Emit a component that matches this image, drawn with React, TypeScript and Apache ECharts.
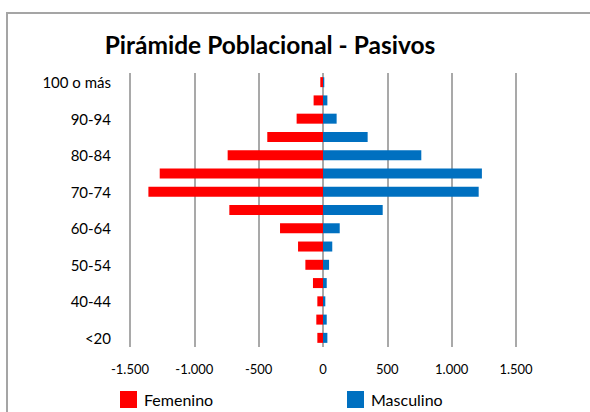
import React, { useEffect, useRef } from "react";
import * as echarts from "echarts";

const categories = ["<20", "20-39", "40-44", "45-49", "50-54", "55-59", "60-64", "65-69", "70-74", "75-79", "80-84", "85-89", "90-94", "95-99", "100 o más"];
const femenino = [44, 52, 44, 78, 137, 194, 334, 728, 1357, 1269, 741, 433, 205, 73, 21];
const masculino = [34, 29, 18, 29, 47, 72, 130, 464, 1210, 1235, 764, 347, 106, 34, 10];
const xTicks = [-1500, 1500, 500];

const fmt = (v: number) => {
  const s = Math.abs(v).toString().replace(/\B(?=(\d{3})+(?!\d))/g, ".");
  return (v < 0 ? "-" : "") + s;
};

export default function App() {
  const ref = useRef<HTMLDivElement>(null);
  useEffect(() => {
    const chart = echarts.init(ref.current!, null, { renderer: "svg" });
    const font = "Lato";
    chart.setOption({
      animation: false,
      backgroundColor: "#ffffff",
      title: {
        text: "Pirámide Poblacional - Pasivos",
        left: 265,
        top: 27,
        textAlign: "center",
        textStyle: { fontFamily: font, fontWeight: "bold", fontSize: 24.5, color: "#000" },
      },
      graphic: [
        {
          type: "rect",
          shape: { x: 7, y: 13, width: 700, height: 500 },
          style: { fill: "none", stroke: "#A5A5A5", lineWidth: 2 },
          silent: true,
        },
      ],
      legend: [
        {
          data: ["Femenino"],
          left: 120,
          top: 391,
          padding: 0,
          itemWidth: 17,
          itemHeight: 17,
          icon: "rect",
          textStyle: { fontFamily: font, fontSize: 16, color: "#000", padding: [0, 0, 0, 2] },
        },
        {
          data: ["Masculino"],
          left: 347,
          top: 391,
          padding: 0,
          itemWidth: 17,
          itemHeight: 17,
          icon: "rect",
          textStyle: { fontFamily: font, fontSize: 16, color: "#000", padding: [0, 0, 0, 2] },
        },
      ],
      grid: { left: 130, right: 74, top: 73, bottom: 65, containLabel: false },
      xAxis: {
        type: "value",
        min: xTicks[0],
        max: xTicks[1],
        interval: xTicks[2],
        axisLine: { show: false },
        axisTick: { show: false },
        axisLabel: { formatter: fmt, fontFamily: font, fontSize: 13, color: "#000", margin: 15 },
        splitLine: { show: true, lineStyle: { color: "#8C8C8C", width: 1.5 } },
      },
      yAxis: {
        type: "category",
        data: categories,
        axisLine: { show: false },
        axisTick: { show: false },
        axisLabel: { interval: 1, fontFamily: font, fontSize: 15, color: "#000", margin: 19 },
      },
      series: [
        {
          name: "Femenino",
          type: "bar",
          data: femenino.map((v) => -v),
          barWidth: 10,
          barGap: "-100%",
          itemStyle: { color: "#FF0000" },
        },
        {
          name: "Masculino",
          type: "bar",
          data: masculino,
          barWidth: 10,
          itemStyle: { color: "#0070C0" },
        },
      ],
    });
    return () => chart.dispose();
  }, []);
  return <div ref={ref} style={{ position: "fixed", left: 0, top: 0, width: 590, height: 412 }} />;
}
